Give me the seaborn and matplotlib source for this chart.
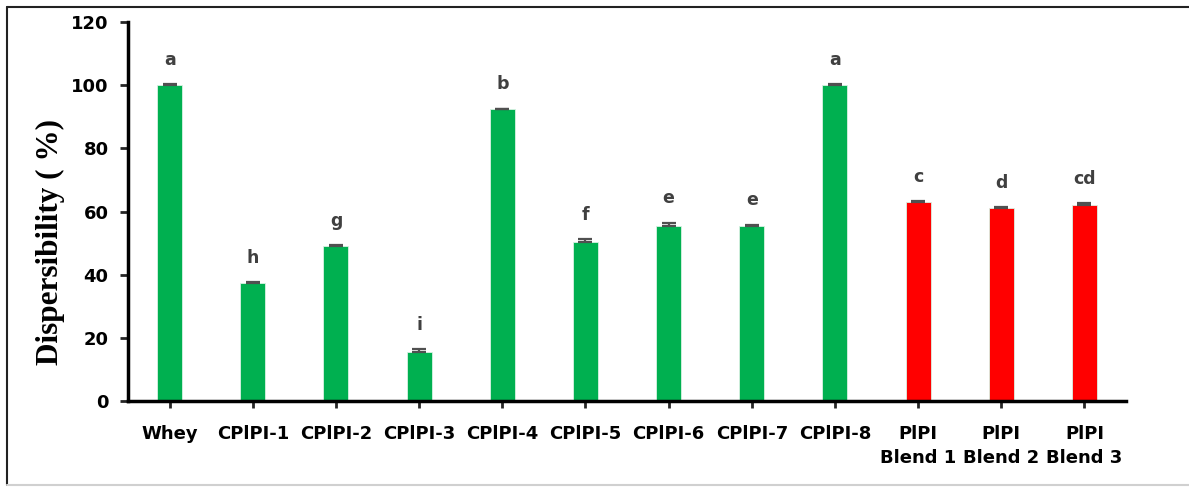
import matplotlib
matplotlib.use("Agg")
import matplotlib.pyplot as plt
import matplotlib.lines as mlines
import seaborn as sns
import pandas as pd

# Dispersibility of protein isolates (mean, standard deviation, significance letters)
samples = ["Whey", "CPlPI-1", "CPlPI-2", "CPlPI-3", "CPlPI-4", "CPlPI-5",
           "CPlPI-6", "CPlPI-7", "CPlPI-8", "PlPI\nBlend 1", "PlPI\nBlend 2", "PlPI\nBlend 3"]
dispersibility = [100.0, 37.4, 49.0, 15.7, 92.3, 50.4, 55.4, 55.4, 100.0, 62.9, 61.1, 62.2]
std_dev = [0.3, 0.3, 0.4, 0.8, 0.3, 0.8, 1.1, 0.5, 0.3, 0.5, 0.4, 0.4]
letters = ["a", "h", "g", "i", "b", "f", "e", "e", "a", "c", "d", "cd"]
bar_colors = ["#00B050"] * 9 + ["#FF0000"] * 3

df = pd.DataFrame({"sample": samples, "value": dispersibility})

sns.set_style("white")
plt.rcParams["font.family"] = ["DejaVu Sans"]

fig = plt.figure(figsize=(11.89, 4.88), dpi=100)
ax = fig.add_axes([0.1077, 0.178, 0.8393, 0.777])

sns.barplot(data=df, x="sample", y="value", hue="sample", palette=bar_colors,
            legend=False, width=0.3, saturation=1, ax=ax,
            edgecolor="#D9F2E3", linewidth=0.6)

xpos = list(range(len(samples)))
ax.errorbar(xpos, dispersibility, yerr=[[0] * len(std_dev), std_dev], fmt="none",
            ecolor="#505050", elinewidth=1.6, capsize=5, capthick=1.6, zorder=5)

for x, v, e, lab in zip(xpos, dispersibility, std_dev, letters):
    ax.annotate(lab, xy=(x, v + e), xytext=(0, 11), textcoords="offset points",
                ha="center", va="bottom", fontsize=12.5, fontweight="bold",
                color="#404040")

ax.set_xlim(-0.5, 11.5)
ax.set_ylim(0, 120)
ax.set_yticks(range(0, 121, 20))
ax.set_xlabel("")
ax.set_ylabel("Dispersibility ( %)", family=["Liberation Serif"], fontsize=22.5,
              fontweight="bold", color="black")
ax.yaxis.set_label_coords(-0.063, 0.42)

for s in ["top", "right"]:
    ax.spines[s].set_visible(False)
for s in ["left", "bottom"]:
    ax.spines[s].set_linewidth(2.5)
    ax.spines[s].set_color("black")

ax.tick_params(axis="y", direction="out", length=6, width=2, labelsize=13,
               pad=8, left=True)
ax.tick_params(axis="x", direction="inout", length=10, width=2, labelsize=13,
               pad=12, bottom=True)
ax.set_xticks([11.5], minor=True)
ax.tick_params(axis="x", which="minor", direction="inout", length=16, width=2.5)
for lbl in ax.get_xticklabels() + ax.get_yticklabels():
    lbl.set_fontweight("bold")
    lbl.set_color("black")
for lbl in ax.get_xticklabels():
    lbl.set_linespacing(1.45)

# Outer frame lines
fig.add_artist(mlines.Line2D([0.0059, 0.0059], [0.006, 0.986], transform=fig.transFigure,
                             color="#222222", linewidth=1.5))
fig.add_artist(mlines.Line2D([0.0059, 1.0], [0.986, 0.986], transform=fig.transFigure,
                             color="#222222", linewidth=1.5))
fig.add_artist(mlines.Line2D([0.0059, 1.0], [0.006, 0.006], transform=fig.transFigure,
                             color="#D0D0D0", linewidth=1.5))

fig.savefig("out.png", dpi=100)
